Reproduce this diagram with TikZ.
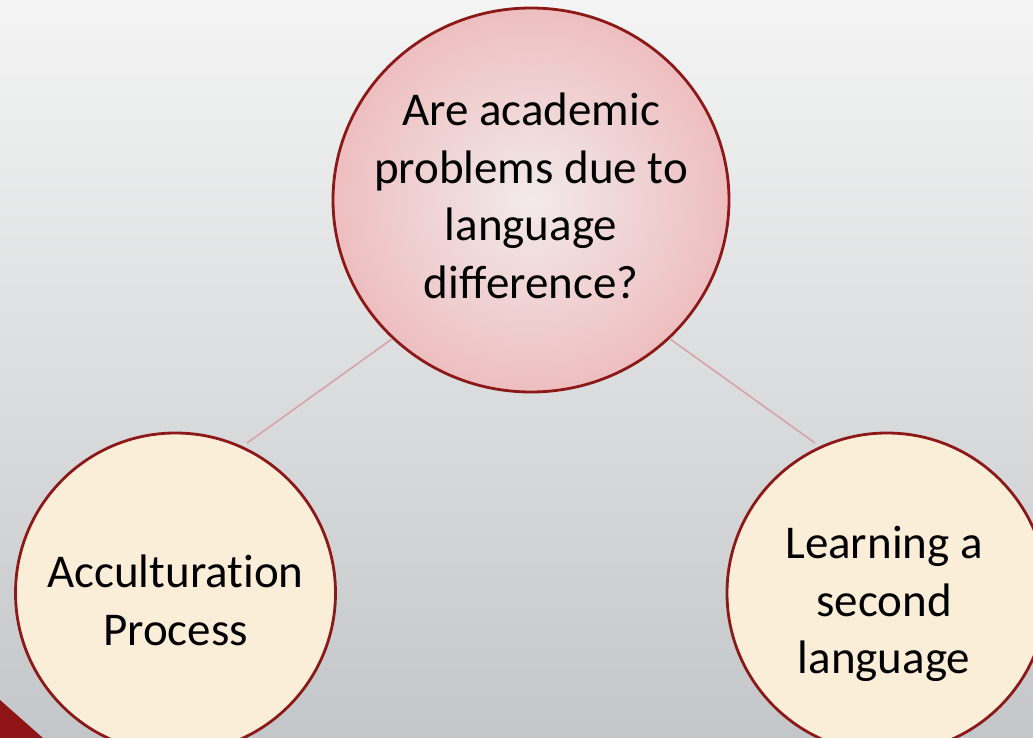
\documentclass[tikz,border=0pt]{standalone}
\usepackage{fontspec}
\setmainfont[Ligatures={NoCommon}]{Carlito}
\usetikzlibrary{shapes.geometric}
\definecolor{bgtop}{RGB}{244,244,244}
\definecolor{bgbot}{RGB}{196,199,201}
\definecolor{rimred}{RGB}{140,24,24}
\definecolor{pinkout}{RGB}{238,190,192}
\definecolor{pinkin}{RGB}{242,234,234}
\definecolor{cream}{RGB}{251,238,217}
\definecolor{linkpink}{RGB}{216,164,166}
\definecolor{cornerred}{RGB}{142,20,22}
\tikzset{
  bubble/.style={ellipse, draw=rimred, line width=2.8pt, inner sep=0pt},
  bigbubble/.style={bubble, minimum width=396pt, minimum height=384pt, inner color=pinkin, outer color=pinkout},
  smallbubble/.style={bubble, minimum width=320pt, minimum height=320pt, fill=cream},
  bubbletext/.style={align=center, text=black, font=\fontsize{47}{57.5}\selectfont, inner sep=0pt},
  link/.style={draw=linkpink, line width=1.6pt}
}
\begin{document}
\begin{tikzpicture}[x=1pt, y=-1pt]
\useasboundingbox (0,0) rectangle (1033,738);
\clip (0,0) rectangle (1033,738);
\shade[top color=bgtop, bottom color=bgbot] (0,0) rectangle (1033,738);
\fill[cornerred] (0,700) -- (43,738) -- (0,738) -- cycle;
\node[bigbubble] (top) at (531,200) {};
\node[smallbubble] (left) at (175.5,593) {};
\node[smallbubble] (right) at (887,593) {};
\coordinate (lend) at (247,443);
\coordinate (rend) at (815,443);
\draw[link] (top.225) -- (lend);
\draw[link] (top.315) -- (rend);
\node[bubbletext] (toptext) at (531,196) {Are academic\\problems due to\\language\\difference?};
\node[bubbletext] (lefttext) at (175.5,600.5) {Acculturation\\Process};
\node[bubbletext] (righttext) at (884,604) {Learning a\\second\\language};
\end{tikzpicture}
\end{document}
